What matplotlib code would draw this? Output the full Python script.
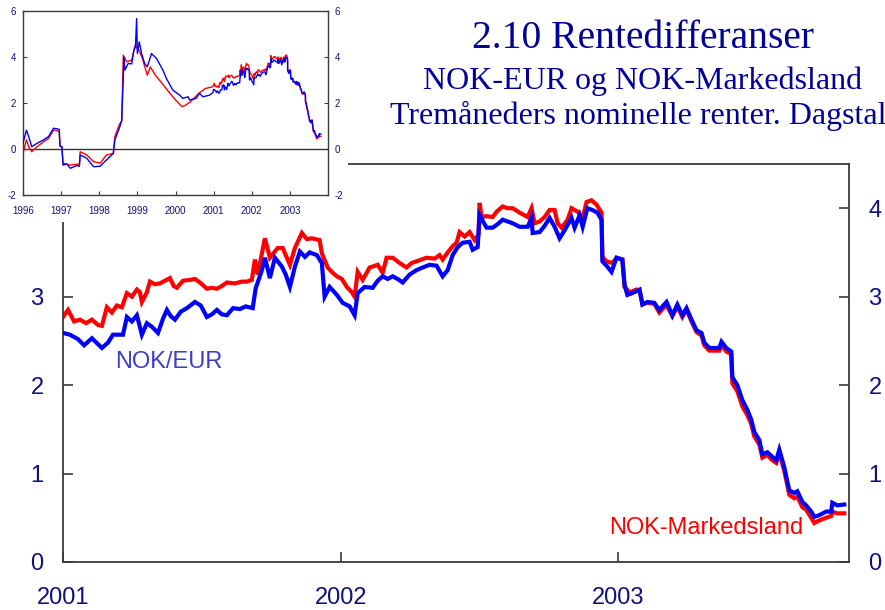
import matplotlib
matplotlib.use("Agg")
import matplotlib.pyplot as plt
from matplotlib.patches import Rectangle

# ---------------- data (decimal years, percentage points) ----------------
# Main chart, NOK/EUR (blue)
eur_t = [2001.000, 2001.025, 2001.054, 2001.076, 2001.104, 2001.140, 2001.162, 2001.180,
         2001.216, 2001.230, 2001.248, 2001.266, 2001.284, 2001.302, 2001.320, 2001.342,
         2001.360, 2001.374, 2001.388, 2001.403, 2001.424, 2001.446, 2001.475, 2001.496,
         2001.518, 2001.536, 2001.554, 2001.572, 2001.590, 2001.612, 2001.637, 2001.658,
         2001.683, 2001.694, 2001.701, 2001.716, 2001.727, 2001.745, 2001.763, 2001.788,
         2001.802, 2001.817, 2001.835, 2001.853, 2001.871, 2001.888, 2001.914, 2001.932,
         2001.942, 2001.960, 2001.986, 2002.007, 2002.032, 2002.050, 2002.061, 2002.086,
         2002.115, 2002.133, 2002.151, 2002.169, 2002.187, 2002.205, 2002.223, 2002.248,
         2002.273, 2002.295, 2002.320, 2002.345, 2002.367, 2002.385, 2002.403, 2002.421,
         2002.439, 2002.464, 2002.475, 2002.493, 2002.500, 2002.525, 2002.547, 2002.565,
         2002.583, 2002.601, 2002.619, 2002.644, 2002.673, 2002.687, 2002.691, 2002.716,
         2002.734, 2002.752, 2002.770, 2002.788, 2002.806, 2002.831, 2002.842, 2002.860,
         2002.871, 2002.888, 2002.906, 2002.924, 2002.939, 2002.942, 2002.960, 2002.975,
         2002.993, 2003.014, 2003.022, 2003.032, 2003.050, 2003.076, 2003.086, 2003.104,
         2003.129, 2003.147, 2003.173, 2003.194, 2003.212, 2003.230, 2003.245, 2003.263,
         2003.281, 2003.299, 2003.309, 2003.327, 2003.363, 2003.371, 2003.388, 2003.406,
         2003.410, 2003.428, 2003.446, 2003.464, 2003.478, 2003.489, 2003.507, 2003.518,
         2003.536, 2003.554, 2003.568, 2003.579, 2003.597, 2003.615, 2003.633, 2003.644,
         2003.662, 2003.676, 2003.694, 2003.705, 2003.723, 2003.748, 2003.766, 2003.770,
         2003.788, 2003.813]
eur_v = [2.59, 2.57, 2.52, 2.45, 2.53, 2.42, 2.48, 2.57,
         2.57, 2.77, 2.72, 2.79, 2.57, 2.70, 2.66, 2.59,
         2.75, 2.85, 2.78, 2.74, 2.83, 2.87, 2.94, 2.90,
         2.77, 2.80, 2.85, 2.80, 2.79, 2.87, 2.86, 2.89,
         2.87, 3.10, 3.16, 3.30, 3.44, 3.21, 3.44, 3.34,
         3.25, 3.11, 3.34, 3.51, 3.45, 3.50, 3.47, 3.38,
         3.00, 3.11, 3.02, 2.93, 2.89, 2.79, 3.04, 3.11,
         3.10, 3.18, 3.23, 3.20, 3.23, 3.20, 3.16, 3.25,
         3.30, 3.33, 3.36, 3.35, 3.23, 3.30, 3.47, 3.56,
         3.61, 3.62, 3.53, 3.56, 3.92, 3.78, 3.78, 3.82,
         3.87, 3.85, 3.83, 3.79, 3.79, 3.89, 3.72, 3.73,
         3.80, 3.89, 3.79, 3.66, 3.75, 3.89, 3.78, 3.92,
         3.79, 4.00, 3.98, 3.95, 3.87, 3.40, 3.34, 3.28,
         3.44, 3.42, 3.13, 3.02, 3.04, 3.08, 2.91, 2.94,
         2.93, 2.85, 2.94, 2.79, 2.91, 2.79, 2.87, 2.74,
         2.62, 2.59, 2.48, 2.42, 2.42, 2.49, 2.42, 2.38,
         2.09, 2.00, 1.83, 1.72, 1.61, 1.47, 1.38, 1.22,
         1.24, 1.19, 1.15, 1.27, 1.07, 0.81, 0.78, 0.80,
         0.68, 0.64, 0.57, 0.51, 0.53, 0.57, 0.57, 0.67,
         0.64, 0.65]

# Main chart, NOK-Markedsland (red)
mkt_t = [2001.000, 2001.018, 2001.040, 2001.061, 2001.083, 2001.104, 2001.126, 2001.140,
         2001.158, 2001.176, 2001.194, 2001.212, 2001.230, 2001.248, 2001.266, 2001.277,
         2001.284, 2001.302, 2001.313, 2001.331, 2001.349, 2001.367, 2001.385, 2001.399,
         2001.410, 2001.432, 2001.457, 2001.475, 2001.493, 2001.518, 2001.536, 2001.554,
         2001.572, 2001.590, 2001.619, 2001.644, 2001.662, 2001.680, 2001.691, 2001.701,
         2001.719, 2001.727, 2001.745, 2001.773, 2001.791, 2001.817, 2001.835, 2001.860,
         2001.878, 2001.896, 2001.924, 2001.932, 2001.953, 2001.971, 2001.986, 2002.004,
         2002.022, 2002.040, 2002.050, 2002.061, 2002.079, 2002.104, 2002.133, 2002.151,
         2002.165, 2002.187, 2002.212, 2002.237, 2002.255, 2002.273, 2002.309, 2002.338,
         2002.356, 2002.367, 2002.385, 2002.403, 2002.417, 2002.428, 2002.446, 2002.464,
         2002.482, 2002.496, 2002.500, 2002.507, 2002.525, 2002.547, 2002.561, 2002.583,
         2002.601, 2002.619, 2002.644, 2002.673, 2002.687, 2002.698, 2002.716, 2002.734,
         2002.752, 2002.770, 2002.781, 2002.795, 2002.817, 2002.831, 2002.853, 2002.871,
         2002.885, 2002.903, 2002.921, 2002.939, 2002.942, 2002.957, 2002.978, 2002.993,
         2003.014, 2003.022, 2003.040, 2003.065, 2003.076, 2003.086, 2003.104, 2003.129,
         2003.147, 2003.173, 2003.194, 2003.212, 2003.230, 2003.245, 2003.263, 2003.281,
         2003.299, 2003.309, 2003.327, 2003.363, 2003.371, 2003.388, 2003.406, 2003.410,
         2003.428, 2003.446, 2003.464, 2003.478, 2003.489, 2003.507, 2003.518, 2003.536,
         2003.554, 2003.568, 2003.579, 2003.597, 2003.615, 2003.633, 2003.644, 2003.662,
         2003.676, 2003.694, 2003.705, 2003.723, 2003.748, 2003.766, 2003.770, 2003.788,
         2003.813]
mkt_v = [2.77, 2.85, 2.72, 2.74, 2.70, 2.74, 2.68, 2.67,
         2.88, 2.82, 2.90, 2.88, 3.04, 3.00, 3.08, 3.05,
         2.94, 3.05, 3.17, 3.14, 3.15, 3.18, 3.21, 3.12,
         3.10, 3.18, 3.19, 3.20, 3.16, 3.09, 3.10, 3.09,
         3.12, 3.16, 3.15, 3.17, 3.17, 3.19, 3.42, 3.25,
         3.53, 3.66, 3.44, 3.55, 3.55, 3.36, 3.55, 3.72,
         3.65, 3.66, 3.64, 3.49, 3.33, 3.27, 3.23, 3.20,
         3.11, 3.05, 3.00, 3.28, 3.19, 3.33, 3.36, 3.27,
         3.44, 3.44, 3.38, 3.33, 3.38, 3.40, 3.44, 3.43,
         3.47, 3.42, 3.50, 3.57, 3.61, 3.73, 3.68, 3.73,
         3.64, 3.70, 4.06, 3.90, 3.91, 3.90, 3.96, 4.02,
         4.00, 4.00, 3.95, 3.90, 4.00, 3.83, 3.85, 3.90,
         3.98, 3.98, 3.83, 3.78, 3.87, 4.00, 3.96, 3.89,
         4.07, 4.09, 4.04, 3.95, 3.45, 3.40, 3.38, 3.44,
         3.42, 3.11, 3.05, 3.08, 3.07, 2.92, 2.93, 2.92,
         2.82, 2.91, 2.78, 2.89, 2.77, 2.85, 2.72, 2.60,
         2.56, 2.45, 2.39, 2.39, 2.45, 2.38, 2.35, 2.02,
         1.93, 1.76, 1.66, 1.56, 1.42, 1.33, 1.18, 1.21,
         1.15, 1.12, 1.23, 1.03, 0.76, 0.72, 0.74, 0.62,
         0.59, 0.50, 0.44, 0.47, 0.50, 0.52, 0.57, 0.55,
         0.55]

# Inset, history 1996-2000 (continues with the main-chart series)
eur_hist_t = [1996.00, 1996.09, 1996.15, 1996.23, 1996.37, 1996.54, 1996.67, 1996.80,
              1996.89, 1996.95, 1996.97, 1997.02, 1997.05, 1997.15, 1997.24, 1997.41,
              1997.48, 1997.50, 1997.67, 1997.85, 1998.02, 1998.19, 1998.37, 1998.41,
              1998.54, 1998.59, 1998.65, 1998.67, 1998.76, 1998.85, 1998.91, 1998.95,
              1998.98, 1999.00, 1999.05, 1999.11, 1999.19, 1999.26, 1999.37, 1999.50,
              1999.67, 1999.76, 1999.93, 2000.11, 2000.19, 2000.33, 2000.37, 2000.54,
              2000.63, 2000.72, 2000.89, 2000.98]
eur_hist_v = [0.25, 0.82, 0.54, 0.10, 0.25, 0.40, 0.54, 0.90,
              0.88, 0.85, 0.12, 0.10, -0.70, -0.65, -0.84, -0.72,
              -0.75, -0.26, -0.40, -0.77, -0.75, -0.48, -0.19, 0.40,
              0.97, 1.26, 4.00, 3.43, 3.72, 3.70, 4.30, 4.44,
              5.67, 4.15, 4.66, 4.15, 3.72, 3.57, 4.15, 3.94,
              3.43, 3.07, 2.56, 2.34, 2.20, 2.27, 2.13, 2.20,
              2.42, 2.27, 2.34, 2.45]
mkt_hist_t = [1996.00, 1996.09, 1996.15, 1996.23, 1996.37, 1996.54, 1996.67, 1996.80,
              1996.89, 1996.95, 1996.97, 1997.02, 1997.05, 1997.24, 1997.48, 1997.50,
              1997.67, 1997.85, 1998.02, 1998.19, 1998.37, 1998.41, 1998.54, 1998.59,
              1998.63, 1998.72, 1998.85, 1998.94, 1998.98, 1999.04, 1999.13, 1999.26,
              1999.34, 1999.47, 1999.65, 1999.82, 2000.00, 2000.17, 2000.26, 2000.39,
              2000.52, 2000.61, 2000.78, 2000.96]
mkt_hist_v = [-0.19, 0.40, 0.10, -0.12, 0.10, 0.32, 0.46, 0.82,
              0.80, 0.75, 0.15, 0.10, -0.62, -0.70, -0.65, -0.12,
              -0.26, -0.55, -0.62, -0.26, -0.19, 0.54, 1.11, 1.20,
              4.08, 3.79, 3.86, 4.50, 4.40, 4.30, 3.94, 3.21,
              3.57, 3.21, 2.85, 2.49, 2.13, 1.84, 1.90, 2.05,
              2.27, 2.42, 2.63, 2.70]

main_years = [2001, 2002, 2003]
main_yticks = [0, 1, 2, 3, 4]
inset_years = [1996, 1997, 1998, 1999, 2000, 2001, 2002, 2003]
inset_yticks = [-2, 0, 2, 4, 6]

title1 = "2.10 Rentedifferanser"
title2 = "NOK-EUR og NOK-Markedsland"
title3 = "Tremåneders nominelle renter. Dagstall"
lab_eur = "NOK/EUR"
lab_mkt = "NOK-Markedsland"

# ---------------- figure ----------------
plt.rcParams['font.family'] = ['Liberation Sans', 'DejaVu Sans']
NAVY = '#10107a'
BLUE = '#0000ff'
RED = '#ff0000'
SPINE = '#3a3a3a'

W, H = 885, 610
fig = plt.figure(figsize=(W / 100, H / 100), dpi=100)


def rect(l, t, r, b):
    return [l / W, 1 - b / H, (r - l) / W, (b - t) / H]


ax = fig.add_axes(rect(63, 164, 849, 562))
ax.plot(mkt_t, mkt_v, color=RED, lw=3.0, solid_joinstyle='miter', zorder=2)
ax.plot(eur_t, eur_v, color=BLUE, lw=3.0, solid_joinstyle='miter', zorder=3)
ax.set_xlim(2001.0, 2003.83)
ax.set_ylim(0, 4.5)
ax.set_xticks(main_years)
ax.set_xticklabels([str(y) for y in main_years])
ax.set_yticks(main_yticks)
ax.set_yticklabels([str(v) for v in main_yticks])
ax.tick_params(axis='both', direction='in', length=7, width=1.2, color=SPINE,
               labelsize=17, labelcolor=NAVY)
ax.tick_params(axis='x', pad=18, top=False)
ax.tick_params(axis='y', pad=14, left=True, right=True, labelleft=True, labelright=True)
for s in ax.spines.values():
    s.set_color(SPINE)
    s.set_linewidth(1.3)

ax.text(2001.187, 2.26, lab_eur, color='#3c3cd0', fontsize=17, ha='left', va='center')
ax.text(2002.968, 0.385, lab_mkt, color=RED, fontsize=17, ha='left', va='center')

# white cover behind the inset
fig.add_artist(Rectangle((0, 1 - 222 / H), 348 / W, 222 / H, transform=fig.transFigure,
                         facecolor='white', edgecolor='none', zorder=5))

# inset
axi = fig.add_axes(rect(23, 11, 328, 195))
axi.set_zorder(10)
axi.axhline(0, color='#333333', lw=1.0, zorder=1)
axi.plot(mkt_hist_t + mkt_t, mkt_hist_v + mkt_v, color=RED, lw=1.0, zorder=2)
axi.plot(eur_hist_t + eur_t, eur_hist_v + eur_v, color=BLUE, lw=1.0, zorder=3)
axi.set_xlim(1996, 2004)
axi.set_ylim(-2, 6)
axi.set_xticks(inset_years)
axi.set_xticklabels([str(y) for y in inset_years])
axi.set_yticks(inset_yticks)
axi.set_yticklabels([str(v) for v in inset_yticks])
axi.tick_params(axis='both', direction='in', length=3, width=0.8, color=SPINE,
                labelsize=7, labelcolor=NAVY)
axi.tick_params(axis='x', pad=8)
axi.tick_params(axis='y', pad=5, left=True, right=True, labelleft=True, labelright=True)
for s in axi.spines.values():
    s.set_color(SPINE)
    s.set_linewidth(1.0)

# titles
serif = ['Liberation Serif', 'DejaVu Serif']
TCOL = '#000099'
fig.text(643 / W, 1 - 48 / H, title1, family=serif, fontsize=28.5, color=TCOL,
         ha='center', va='baseline')
fig.text(643 / W, 1 - 89 / H, title2, family=serif, fontsize=23, color=TCOL,
         ha='center', va='baseline')
fig.text(643 / W, 1 - 124 / H, title3, family=serif, fontsize=23, color=TCOL,
         ha='center', va='baseline')

fig.savefig('out.png', dpi=100, facecolor='white')
